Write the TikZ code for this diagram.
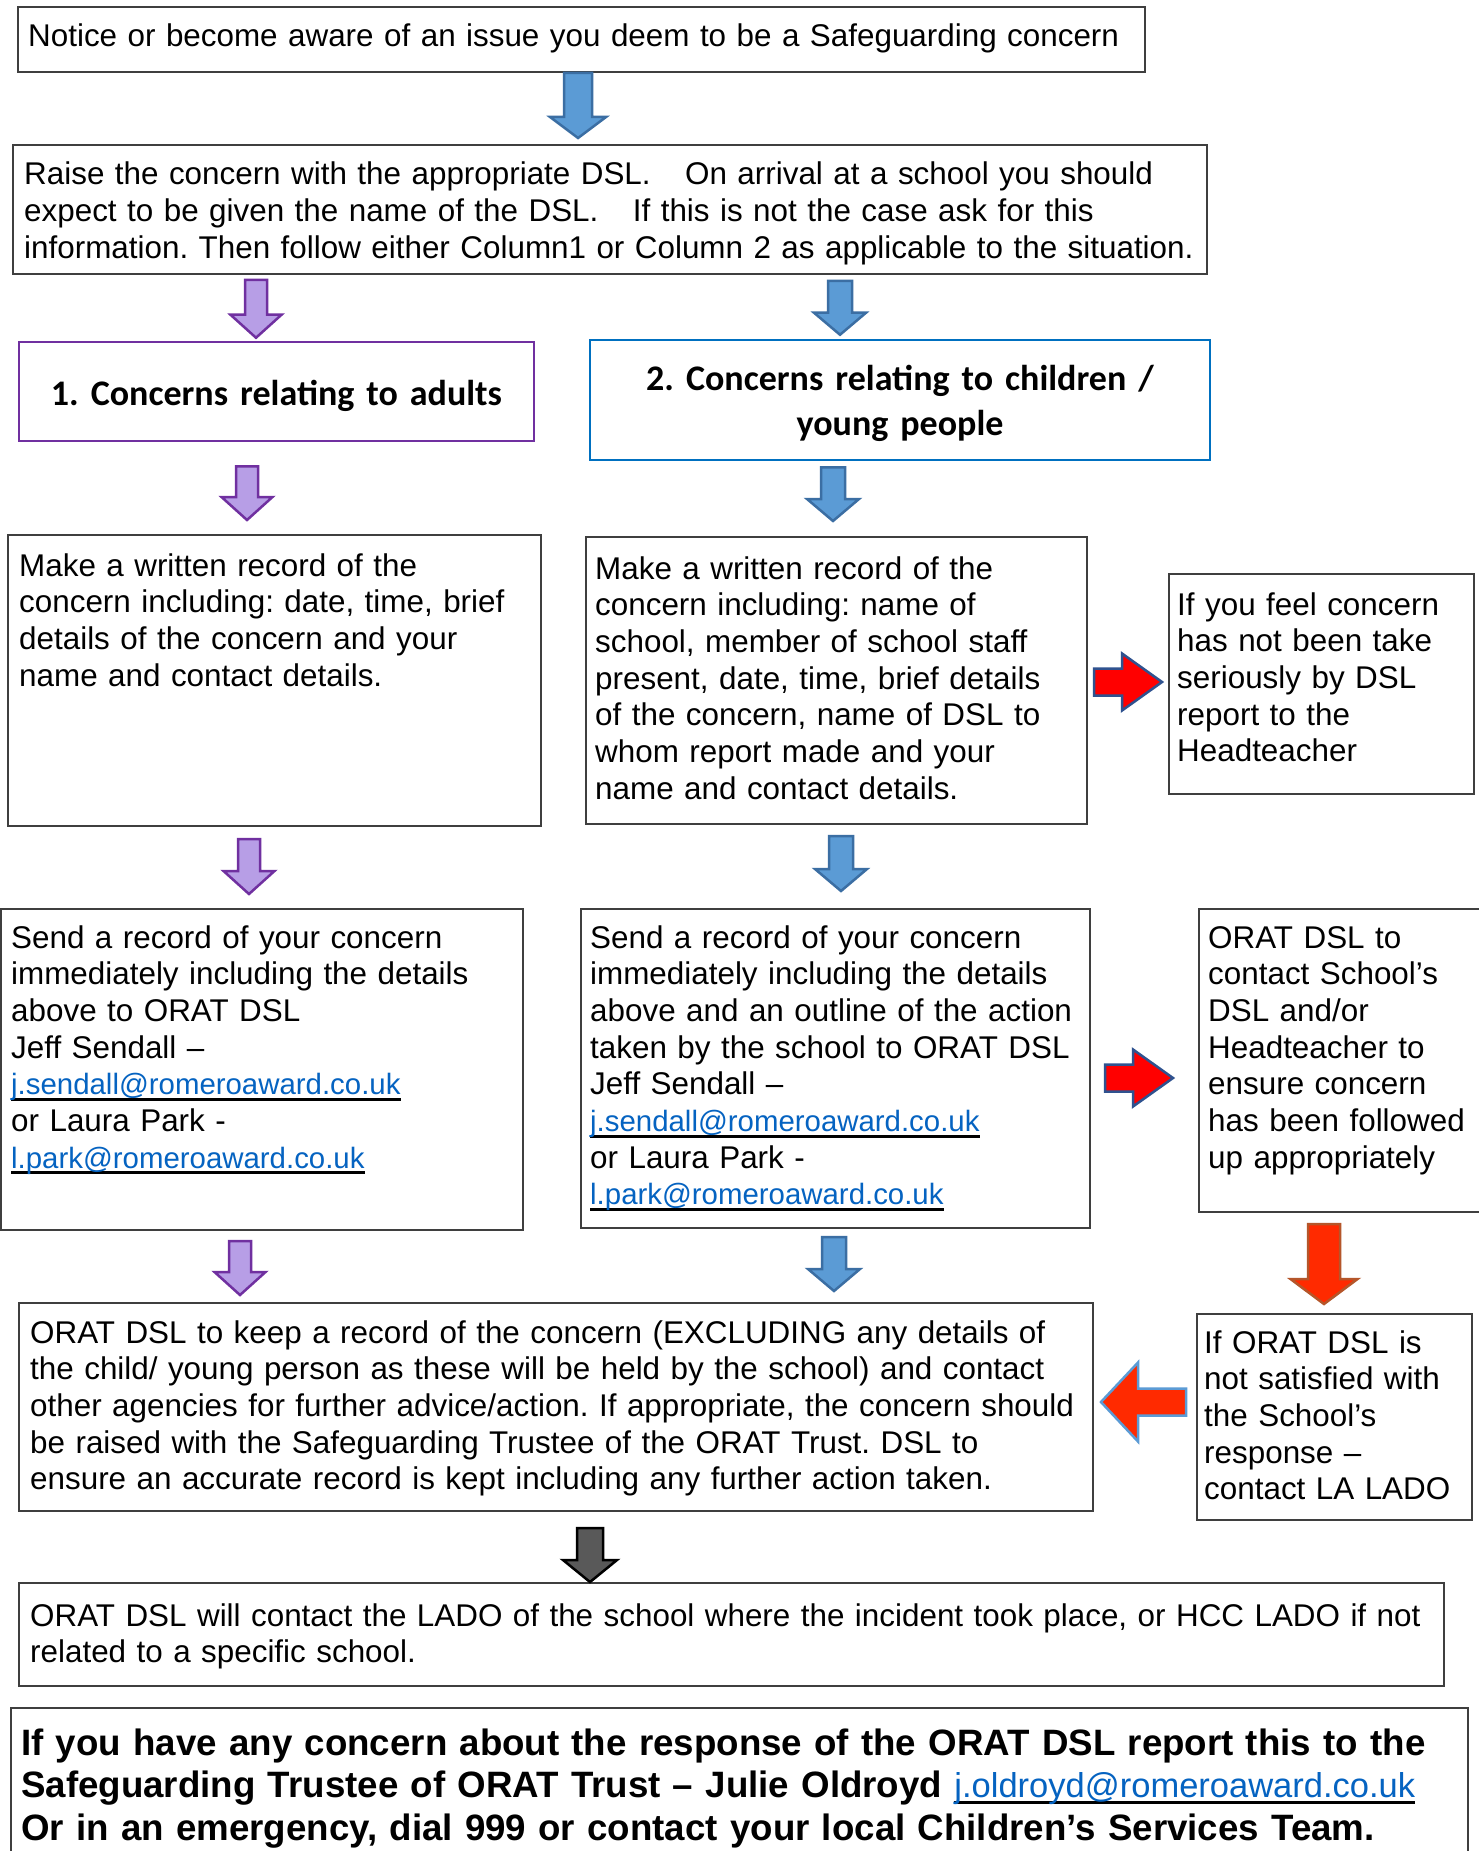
\documentclass[tikz,border=0pt]{standalone}
\usepackage{fontspec}
\setmainfont{Liberation Sans}
\newfontfamily\calibri{Carlito}
\usepackage{xcolor}
\usepackage{tikz}
\usetikzlibrary{
    calc,
    fit
}
\frenchspacing

\definecolor{framegray}{HTML}{3F3F3F}
\definecolor{adultpurple}{HTML}{7030A0}
\definecolor{childblue}{HTML}{0070C0}
\definecolor{purplefill}{HTML}{B79EE6}
\definecolor{bluefill}{HTML}{5B9BD5}
\definecolor{blueedge}{HTML}{3B6EA3}
\definecolor{rededge}{HTML}{2F528F}
\definecolor{orangered}{HTML}{FF2A00}
\definecolor{rustedge}{HTML}{B5562A}
\definecolor{darkfill}{HTML}{595959}
\definecolor{linkblue}{HTML}{0563C1}

\newcommand{\bodyfont}{\fontsize{31.4}{36.7}\selectfont}
\newsavebox{\linkbox}
\newcommand{\maillink}[1]{\leavevmode\sbox\linkbox{\color{linkblue}#1}\rlap{\raisebox{-6pt}{\rule{\wd\linkbox}{2.8pt}}}\usebox\linkbox}

% block arrow: style, tail, tip, half shaft, half head, head length
\newcommand{\blockarrow}[6]{%
    \coordinate (ba-tail) at #2;
    \coordinate (ba-tip) at #3;
    \coordinate (ba-neck) at ($(ba-tip)!#6!(ba-tail)$);
    \draw[#1] ($(ba-tail)!#4!90:(ba-tip)$) -- ($(ba-neck)!#4!90:(ba-tip)$)
        -- ($(ba-neck)!#5!90:(ba-tip)$) -- (ba-tip)
        -- ($(ba-neck)!#5!-90:(ba-tip)$) -- ($(ba-neck)!#4!-90:(ba-tip)$)
        -- ($(ba-tail)!#4!-90:(ba-tip)$) -- cycle;
}

\tikzset{
    plain/.style={draw=framegray, line width=2pt, inner sep=0pt},
    adultbox/.style={draw=adultpurple, line width=2.5pt, inner sep=0pt},
    childbox/.style={draw=childblue, line width=2.5pt, inner sep=0pt},
    txt/.style={anchor=base west, inner sep=0pt, align=left, text width=1440pt, font=\bodyfont},
    head/.style={anchor=base, inner sep=0pt, align=center, text width=620pt, font=\calibri\bfseries\fontsize{36}{45}\selectfont},
    purplearrow/.style={fill=purplefill, draw=adultpurple, line width=2.5pt},
    bluearrow/.style={fill=bluefill, draw=blueedge, line width=2.5pt},
    redarrow/.style={fill=red, draw=rededge, line width=2.5pt},
    rustarrow/.style={fill=orangered, draw=rustedge, line width=2.5pt},
    leftarrow/.style={fill=orangered, draw=bluefill, line width=2.5pt},
    darkarrow/.style={fill=darkfill, draw=black, line width=2.5pt}
}

\begin{document}
\begin{tikzpicture}[x=1pt, y=-1pt]
    \fill[white] (0,0) rectangle (1478,1851);
    \useasboundingbox (0,0) rectangle (1478,1851);

    % boxes
    \node[plain, fit={(18,7) (1145,72)}] (notice) {};
    \node[plain, fit={(13,145) (1207,274)}] (raise) {};
    \node[adultbox, fit={(19,342) (534,441)}] (adults) {};
    \node[childbox, fit={(590,340) (1210,460)}] (children) {};
    \node[plain, fit={(8,535) (541,826)}] (record1) {};
    \node[plain, fit={(586,537) (1087,824)}] (record2) {};
    \node[plain, fit={(1169,574) (1474,794)}] (feel) {};
    \node[plain, fit={(1,909) (523,1230)}] (send1) {};
    \node[plain, fit={(581,909) (1090,1228)}] (send2) {};
    \node[plain, fit={(1199,909) (1482,1212)}] (contact) {};
    \node[plain, fit={(19,1303) (1093,1511)}] (keep) {};
    \node[plain, fit={(1197,1314) (1472,1520)}] (ifdsl) {};
    \node[plain, fit={(19,1583) (1444,1686)}] (lado) {};
    \node[plain, fit={(11,1708) (1468,1870)}] (final) {};

    % texts
    \node[txt] (noticetext) at (28,47) {Notice or become aware of an issue you deem to be a Safeguarding concern};
    \node[txt] (raisetext) at (24,185) {Raise the concern with the appropriate DSL.\hspace{24pt} On arrival at a school you should\\
        expect to be given the name of the DSL.\hspace{24pt} If this is not the case ask for this\\
        information. Then follow either Column1 or Column 2 as applicable to the situation.};
    \node[head] (adultstext) at (276.5,405) {1. Concerns relating to adults};
    \node[head] (childrentext) at (900,390) {2. Concerns relating to children /\\young people};
    \node[txt] (record1text) at (19,576) {Make a written record of the\\
        concern including: date, time, brief\\
        details of the concern and your\\
        name and contact details.};
    \node[txt] (record2text) at (595,579) {Make a written record of the\\
        concern including: name of\\
        school, member of school staff\\
        present, date, time, brief details\\
        of the concern, name of DSL to\\
        whom report made and your\\
        name and contact details.};
    \node[txt] (feeltext) at (1177,615) {If you feel concern\\has not been take\\seriously by DSL\\report to the\\Headteacher};
    \node[txt] (send1text) at (11,948) {Send a record of your concern\\
        immediately including the details\\
        above to ORAT DSL\\
        Jeff Sendall --\\
        {\fontsize{29.4}{36.7}\selectfont\maillink{j.sendall@romeroaward.co.uk}}\\
        or Laura Park -\\
        {\fontsize{29.4}{36.7}\selectfont\maillink{l.park@romeroaward.co.uk}}};
    \node[txt] (send2text) at (590,948) {Send a record of your concern\\
        immediately including the details\\
        above and an outline of the action\\
        taken by the school to ORAT DSL\\
        Jeff Sendall --\\
        {\fontsize{29.4}{36.7}\selectfont\maillink{j.sendall@romeroaward.co.uk}}\\
        or Laura Park -\\
        {\fontsize{29.4}{36.7}\selectfont\maillink{l.park@romeroaward.co.uk}}};
    \node[txt] (contacttext) at (1208,948) {ORAT DSL to\\contact School’s\\DSL and/or\\Headteacher to\\ensure concern\\has been followed\\up appropriately};
    \node[txt] (keeptext) at (30,1343) {ORAT DSL to keep a record of the concern (EXCLUDING any details of\\
        the child/ young person as these will be held by the school) and contact\\
        other agencies for further advice/action. If appropriate, the concern should\\
        be raised with the Safeguarding Trustee of the ORAT Trust. DSL to\\
        ensure an accurate record is kept including any further action taken.};
    \node[txt] (ifdsltext) at (1204,1353) {If ORAT DSL is\\not satisfied with\\the School’s\\response --\\contact LA LADO};
    \node[txt] (ladotext) at (30,1626) {ORAT DSL will contact the LADO of the school where the incident took place, or HCC LADO if not\\
        related to a specific school.};
    \node[txt, font=\bfseries\fontsize{36.7}{42.5}\selectfont] (finaltext) at (21,1755) {If you have any concern about the response of the ORAT DSL report this to the\\
        Safeguarding Trustee of ORAT Trust -- Julie Oldroyd {\mdseries\fontsize{34.5}{42.5}\selectfont\maillink{j.oldroyd@romeroaward.co.uk}}\\
        Or in an emergency, dial 999 or contact your local Children’s Services Team.};

    % arrows down the columns
    \blockarrow{bluearrow}{(578,0 |- notice.south)}{($(578,0 |- raise.north)+(0,-6)$)}{14pt}{28pt}{21pt}
    \blockarrow{purplearrow}{($(256,0 |- raise.south)+(0,5)$)}{($(256,0 |- adults.north)+(0,-3)$)}{11pt}{25.5pt}{23pt}
    \blockarrow{bluearrow}{($(840,0 |- raise.south)+(0,6)$)}{($(840,0 |- children.north)+(0,-4)$)}{12pt}{26pt}{22pt}
    \blockarrow{purplearrow}{($(247,0 |- adults.south)+(0,24)$)}{($(247,0 |- record1.north)+(0,-14)$)}{11pt}{25.5pt}{23pt}
    \blockarrow{bluearrow}{($(833,0 |- children.south)+(0,6)$)}{($(833,0 |- record2.north)+(0,-15)$)}{12pt}{26pt}{22pt}
    \blockarrow{purplearrow}{($(249,0 |- record1.south)+(0,12)$)}{($(249,0 |- send1.north)+(0,-14)$)}{11pt}{25.5pt}{23pt}
    \blockarrow{bluearrow}{($(841,0 |- record2.south)+(0,11)$)}{($(841,0 |- send2.north)+(0,-17)$)}{12pt}{26pt}{22pt}
    \blockarrow{purplearrow}{($(240,0 |- send1.south)+(0,10)$)}{($(240,0 |- keep.north)+(0,-7)$)}{11pt}{25.5pt}{23pt}
    \blockarrow{bluearrow}{($(834,0 |- send2.south)+(0,8)$)}{($(834,0 |- keep.north)+(0,-11)$)}{12pt}{26pt}{22pt}
    \blockarrow{rustarrow}{($(1324,0 |- contact.south)+(0,11)$)}{($(1324,0 |- ifdsl.north)+(0,-9)$)}{16pt}{33.5pt}{25pt}
    \blockarrow{darkarrow}{($(590,0 |- keep.south)+(0,16)$)}{(590,0 |- lado.north)}{13pt}{27pt}{22pt}

    % side arrows
    \blockarrow{redarrow}{($(record2.east |- 0,682)+(6,0)$)}{($(feel.west |- 0,682)+(-6,0)$)}{13.5pt}{28.5pt}{40pt}
    \blockarrow{redarrow}{($(send2.east |- 0,1078)+(14,0)$)}{($(contact.west |- 0,1078)+(-25,0)$)}{13.5pt}{28.5pt}{40pt}
    \blockarrow{leftarrow}{($(ifdsl.west |- 0,1402)+(-10,0)$)}{($(keep.east |- 0,1402)+(7,0)$)}{13.5pt}{39.5pt}{37pt}
\end{tikzpicture}
\end{document}
